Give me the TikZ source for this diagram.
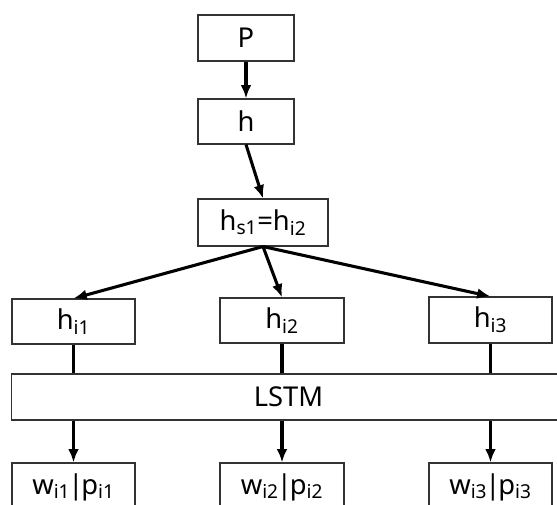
\documentclass[tikz,border=0pt]{standalone}
\usepackage{fontspec}
\setmainfont{Noto Sans}
\usetikzlibrary{arrows.meta}
\newcommand{\vbarsep}{\kern-1.5pt|\kern-1.5pt}
\begin{document}
\begin{tikzpicture}[x=0.75pt,y=-0.75pt,
  box/.style={draw=black!80,line width=0.8pt,fill=white,inner sep=0pt,
    minimum width=#1*0.75pt,font=\fontsize{20.5}{24}\selectfont},
  box/.default=123,
  lbl/.style={font=\fontsize{20.5}{24}\selectfont,inner sep=0pt},
  arr/.style={line width=2.3pt,-{Latex[length=10pt,width=8pt]}},
  ln/.style={line width=2.3pt}]
\clip (0,0) rectangle (557,505);
\fill[white] (0,0) rectangle (557,505);
\node[box=96,minimum height=46*0.75pt] (P) at (246,38) {P};
\node[box=96,minimum height=45*0.75pt] (h) at (246,121.5) {h};
\node[box=130,minimum height=47*0.75pt] (hs) at (263,222.5) {h\textsubscript{s1}=h\textsubscript{i2}};
\node[box=123,minimum height=45*0.75pt] (hi1) at (73.5,321.5) {h\textsubscript{i1}};
\node[box=124,minimum height=45*0.75pt] (hi2) at (282,320.5) {h\textsubscript{i2}};
\node[box=123,minimum height=46*0.75pt] (hi3) at (490.5,320) {h\textsubscript{i3}};
\node[box=590,minimum height=46*0.75pt,anchor=west] (lstm) at (11,397) {};
\node[lbl] (lstmtext) at (288.5,397) {LSTM};
\node[box=123,minimum height=48*0.75pt] (w1) at (73.5,487) {w\textsubscript{i1}\vbarsep p\textsubscript{i1}};
\node[box=124,minimum height=48*0.75pt] (w2) at (282,487) {w\textsubscript{i2}\vbarsep p\textsubscript{i2}};
\node[box=123,minimum height=48*0.75pt] (w3) at (490.5,487) {w\textsubscript{i3}\vbarsep p\textsubscript{i3}};
\draw[arr] (P.south) -- (h.north);
\draw[arr] (h.south) -- (hs.north);
\draw[arr] (hs.south) -- (hi1.north);
\draw[arr] (hs.south) -- (hi2.north);
\draw[arr] (hs.south) -- (hi3.north);
\foreach \i in {1,2,3}{
  \draw[ln] (hi\i.south) -- (hi\i.south |- lstm.north);
  \draw[arr] (w\i.north |- lstm.south) -- (w\i.north);
}
\end{tikzpicture}
\end{document}
